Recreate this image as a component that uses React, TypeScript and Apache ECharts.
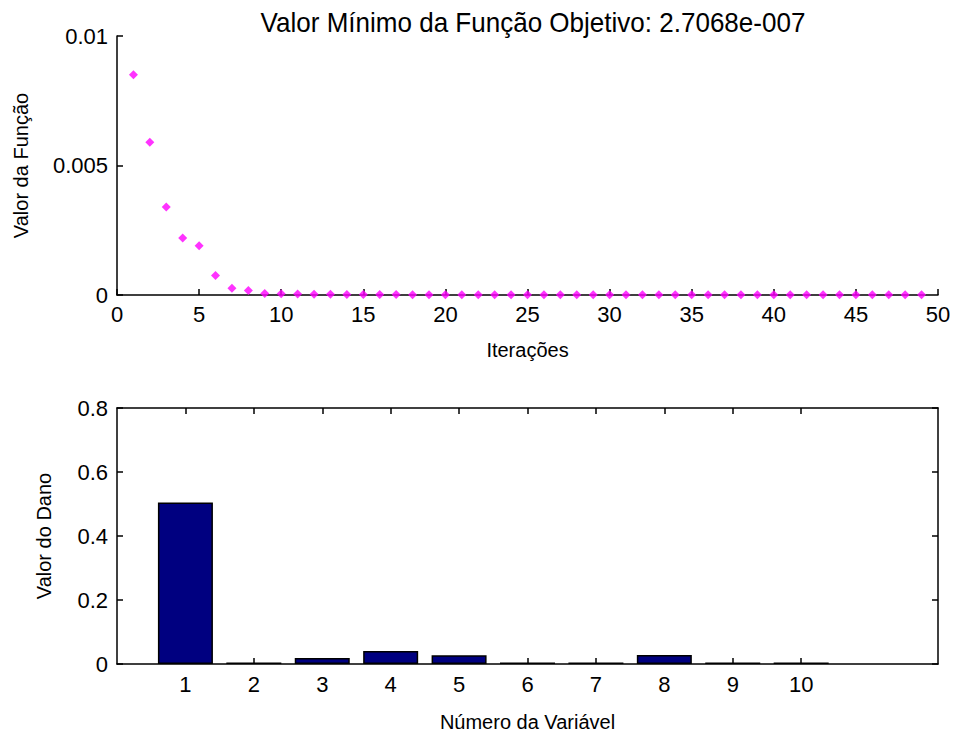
import React, { useEffect, useRef } from "react";
import * as echarts from "echarts";

const titleText = "Valor Mínimo da Função Objetivo: 2.7068e-007";
const iterations = [1,2,3,4,5,6,7,8,9,10,11,12,13,14,15,16,17,18,19,20,21,22,23,24,25,26,27,28,29,30,31,32,33,34,35,36,37,38,39,40,41,42,43,44,45,46,47,48,49];
const functionValues = [0.0085,0.0059,0.0034,0.0022,0.0019,0.00075,0.00026,0.00017,0.00006,0.00005,0.00004,0.00003,0.00003,0.00002,0.00002,0.00002,0.00002,0.00001,0.00001,0.00001,0.00001,0.00001,0.00001,0.00001,0.00001,0.00001,0.00001,0.00001,0.00001,0.00001,0.00001,0.00001,0.00001,0.00001,0.00001,0.00001,0.00001,0.00001,0.00001,0.00001,0.00001,0.00001,0.00001,0.00001,0.00001,0.00001,0.00001,0.00001,0.00001];
const variables = [1,2,3,4,5,6,7,8,9,10];
const damageValues = [0.505,0.005,0.019,0.041,0.027,0.005,0.005,0.028,0.005,0.005];
const varTicks = [1,2,3,4,5,6,7,8,9,10];

export default function App() {
  const ref = useRef<HTMLDivElement>(null);
  useEffect(() => {
    if (!ref.current) return;
    const chart = echarts.init(ref.current, null, { renderer: "svg" });
    const font = "Liberation Sans, Arial, sans-serif";
    const axisLine = { show: true, onZero: false, lineStyle: { color: "#000", width: 1.5 } };
    const tick = { show: true, inside: true, length: 6, lineStyle: { color: "#000", width: 1.5 } };
    const lbl = { color: "#000", fontSize: 22, fontFamily: font };
    const nameStyle = { color: "#000", fontSize: 20, fontFamily: font };
    chart.setOption({
      animation: false,
      backgroundColor: "#fff",
      graphic: [
        {
          type: "text",
          x: 533,
          y: 23,
          scaleX: 0.93,
          style: {
            text: titleText,
            fontFamily: font,
            fontSize: 28,
            fill: "#000",
            align: "center",
            verticalAlign: "middle",
          },
        },
      ],
      grid: [
        { left: 117, top: 36, width: 821, height: 259 },
        { left: 117, top: 408, width: 821, height: 259 },
      ],
      xAxis: [
        {
          gridIndex: 0, type: "value", min: 0, max: 50, interval: 5,
          axisLine, axisTick: tick, splitLine: { show: false },
          axisLabel: { ...lbl, margin: 8 },
          name: "Iterações", nameLocation: "middle", nameGap: 45,
          nameTextStyle: nameStyle,
        },
        {
          gridIndex: 1, type: "value", min: 0, max: 12, interval: 1,
          axisLine, splitLine: { show: false },
          axisTick: { ...tick, customValues: varTicks },
          axisLabel: { ...lbl, margin: 9, customValues: varTicks },
          name: "Número da Variável", nameLocation: "middle", nameGap: 48,
          nameTextStyle: nameStyle,
        },
        {
          gridIndex: 1, type: "value", min: 0, max: 12, interval: 1, position: "top",
          axisLine, splitLine: { show: false },
          axisTick: { ...tick, customValues: varTicks },
          axisLabel: { show: false },
        },
      ],
      yAxis: [
        {
          gridIndex: 0, type: "value", min: 0, max: 0.01, interval: 0.005,
          axisLine, axisTick: tick, splitLine: { show: false },
          axisLabel: { ...lbl, margin: 9, formatter: (v: number) => (v === 0 ? "0" : String(v)) },
          name: "Valor da Função", nameLocation: "middle", nameGap: 86,
          nameTextStyle: nameStyle,
        },
        {
          gridIndex: 1, type: "value", min: 0, max: 0.8, interval: 0.2,
          axisLine, axisTick: tick, splitLine: { show: false },
          axisLabel: { ...lbl, margin: 9, formatter: (v: number) => (v === 0 ? "0" : v.toFixed(1)) },
          name: "Valor do Dano", nameLocation: "middle", nameGap: 63,
          nameTextStyle: nameStyle,
        },
        {
          gridIndex: 1, type: "value", min: 0, max: 0.8, interval: 0.2, position: "right",
          axisLine, axisTick: tick, splitLine: { show: false },
          axisLabel: { show: false },
        },
      ],
      series: [
        {
          type: "scatter",
          xAxisIndex: 0, yAxisIndex: 0,
          symbol: "diamond", symbolSize: 9,
          itemStyle: { color: "#ff00ff" },
          data: iterations.map((x, i) => [x, functionValues[i]]),
        },
        {
          type: "bar",
          xAxisIndex: 1, yAxisIndex: 1,
          barWidth: 55,
          itemStyle: { color: "#000080", borderColor: "#000", borderWidth: 1.5 },
          data: variables.map((x, i) => [x, damageValues[i]]),
        },
      ],
    });
    return () => chart.dispose();
  }, []);
  return <div ref={ref} style={{ width: 954, height: 733, position: "absolute", left: 0, top: 0 }} />;
}
